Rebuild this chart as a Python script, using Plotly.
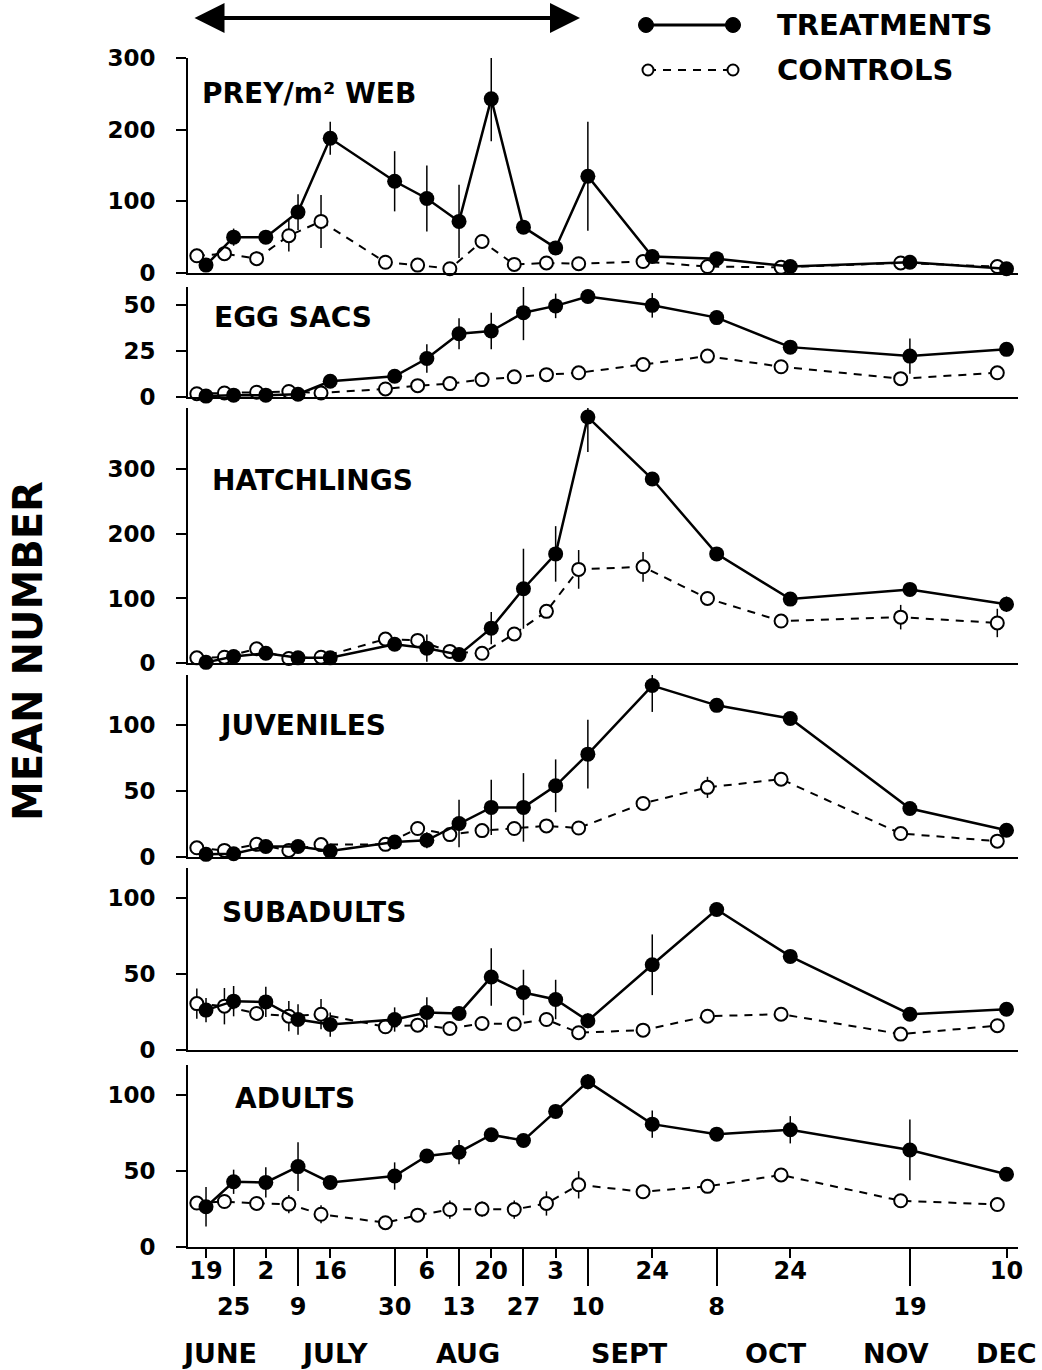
import plotly.graph_objects as go
import pandas as pd

# ---------------- data ----------------
YEAR = "1985"
sample_days = ["06-19", "06-25", "07-02", "07-09", "07-16", "07-30", "08-06", "08-13",
               "08-20", "08-27", "09-03", "09-10", "09-24", "10-08", "10-24", "11-19", "12-10"]

row1_days = ["06-19", "07-02", "07-16", "08-06", "08-20", "09-03", "09-24", "10-24", "12-10"]
row1_labels = ["19", "2", "16", "6", "20", "3", "24", "24", "10"]
row2_days = ["06-25", "07-09", "07-30", "08-13", "08-27", "09-10", "10-08", "11-19"]
row2_labels = ["25", "9", "30", "13", "27", "10", "8", "19"]
month_names = ["JUNE", "JULY", "AUG", "SEPT", "OCT", "NOV", "DEC"]
month_label_days = ["06-22", "07-17", "08-15", "09-19", "10-21", "11-16", "12-10"]

panel_labels = ["PREY/m² WEB", "EGG SACS", "HATCHLINGS", "JUVENILES", "SUBADULTS", "ADULTS"]

prey_t = [11, 50, 50, 85, 188, 128, 104, 72, 243, 64, 35, 135, 23, 20, 9, 15, 6]
prey_t_err = [0, 12, 4, 25, 23, 42, 46, 51, 59, 4, 4, 76, 0, 0, 0, 0, 0]
prey_c = [24, 27, 20, 52, 72, 15, 11, 6, 44, 12, 14, 13, 16, 9, 8, 14, 9]
prey_c_err = [10, 10, 10, 22, 37, 0, 0, 0, 0, 0, 0, 0, 0, 0, 0, 0, 0]

egg_t = [0.5, 1, 1, 1.5, 8.6, 11.3, 21, 34.5, 36, 46, 49.7, 54.8, 50, 43.3, 27.2, 22.3, 26]
egg_t_err = [0, 0, 0, 0, 0, 0, 7.8, 8.4, 10, 15, 6.7, 3, 6.7, 2, 0, 9.6, 2]
egg_c = [1.8, 2.2, 2.6, 3, 2.2, 4.4, 6.2, 7.3, 9.5, 11, 12.2, 13.2, 17.7, 22.3, 16.5, 10, 13.2]
egg_c_err = [0] * 17

hatch_t = [1, 10, 15, 8, 8, 29, 23, 13, 54, 115, 169, 381, 285, 169, 99, 114, 91]
hatch_t_err = [0, 0, 5, 0, 0, 10, 21, 0, 25, 62, 43, 54, 0, 0, 0, 0, 12]
hatch_c = [8, 9, 22, 7, 9, 37, 35, 18, 15, 45, 80, 145, 149, 100, 65, 71, 62]
hatch_c_err = [0, 0, 0, 0, 0, 10, 10, 0, 0, 0, 0, 30, 23, 0, 0, 19, 22]

juv_t = [2, 2.5, 8, 8, 4.6, 11.4, 12.7, 25.4, 37.6, 37.6, 54, 78, 130, 115, 105, 36.8, 20.3]
juv_t_err = [0, 0, 0, 0, 0, 3, 6, 18, 21, 26, 20, 26, 20, 0, 0, 0, 0]
juv_c = [7, 5, 9.6, 5, 9.4, 9.6, 21.6, 17, 20, 21.6, 23.6, 22, 40.6, 52.8, 59, 17.8, 12]
juv_c_err = [0, 0, 0, 0, 0, 0, 3, 0, 0, 0, 0, 0, 0, 8, 0, 0, 0]

sub_t = [26.3, 32.2, 31.7, 20.1, 16.8, 20.1, 24.7, 24.1, 48.1, 37.9, 33.3, 19.3, 56.2, 92.6, 61.7, 23.6, 26.9]
sub_t_err = [8, 10, 10, 10, 8, 8, 10, 0, 19, 15, 13, 5, 20, 0, 0, 0, 0]
sub_c = [30.6, 28.9, 24.1, 22.3, 23.6, 15.3, 16.4, 14.2, 17.5, 17.1, 20.1, 11.4, 13.1, 22.3, 23.6, 10.5, 16]
sub_c_err = [10, 12, 0, 10, 10, 0, 0, 0, 0, 0, 0, 0, 0, 0, 0, 0, 0]

ad_t = [26.5, 43, 42.6, 53, 42.6, 46.8, 60, 62.5, 74, 70.2, 89.4, 109, 81, 74.4, 77.3, 64, 48]
ad_t_err = [13, 8, 10, 16, 0, 9, 0, 8, 0, 0, 0, 5, 9, 0, 9, 20, 0]
ad_c = [29, 30, 28.7, 28.3, 21.6, 16, 21, 24.7, 25, 24.7, 28.7, 41, 36.4, 40, 47.5, 30.5, 28]
ad_c_err = [0, 0, 0, 6, 6, 0, 0, 6, 5, 6, 8, 9, 0, 0, 0, 0, 0]

y_ticks = [[0, 100, 200, 300], [0, 25, 50], [0, 100, 200, 300], [0, 50, 100], [0, 50, 100], [0, 50, 100]]
y_max = [300, 60, 395, 138, 120, 120]

# ---------------- helpers / layout geometry ----------------
W, H = 1042, 1370
def px(x):
    return x / W
def py(y):
    return 1 - y / H

def d(md):
    return pd.Timestamp(f"{YEAR}-{md}")

dates = [d(s) for s in sample_days]
ctrl_dates = [t - pd.Timedelta(days=2) for t in dates]
x_start = dates[0] - pd.Timedelta(hours=94)
x_end = dates[0] + pd.Timedelta(hours=int(176.5 * 24))
xr = [x_start.strftime("%Y-%m-%d %H:%M"), x_end.strftime("%Y-%m-%d %H:%M")]
x_dom = [px(188), px(1018)]

# (bottom px, top px) of each panel
panel_px = [(273, 58), (397, 287), (663, 408), (857, 675), (1050, 868), (1247, 1065)]
label_pos = [(200, 93), (212, 317), (210, 480), (217, 725), (220, 912), (233, 1098)]

series = [
    (prey_t, prey_t_err, prey_c, prey_c_err),
    (egg_t, egg_t_err, egg_c, egg_c_err),
    (hatch_t, hatch_t_err, hatch_c, hatch_c_err),
    (juv_t, juv_t_err, juv_c, juv_c_err),
    (sub_t, sub_t_err, sub_c, sub_c_err),
    (ad_t, ad_t_err, ad_c, ad_c_err),
]

FONT = "DejaVu Sans"
fig = go.Figure()
layout = dict(
    width=W, height=H, margin=dict(l=0, r=0, t=0, b=0, pad=0, autoexpand=False),
    paper_bgcolor="white", plot_bgcolor="white", showlegend=False,
    font=dict(family=FONT, color="black", size=23, weight="bold"),
)

annotations = []
for i, (t, te, c, ce) in enumerate(series):
    n = i + 1
    xname = "x" if n == 1 else f"x{n}"
    yname = "y" if n == 1 else f"y{n}"
    fig.add_trace(go.Scatter(
        x=ctrl_dates, y=c, xaxis=xname, yaxis=yname, mode="lines+markers",
        name="CONTROLS", cliponaxis=False,
        line=dict(color="black", width=2, dash="8px,7px"),
        marker=dict(symbol="circle", size=13, color="white", line=dict(color="black", width=2)),
        error_y=dict(type="data", array=ce, visible=True, width=0, thickness=1.5, color="black"),
    ))
    fig.add_trace(go.Scatter(
        x=dates, y=t, xaxis=xname, yaxis=yname, mode="lines+markers",
        name="TREATMENTS", cliponaxis=False,
        line=dict(color="black", width=2.5),
        marker=dict(symbol="circle", size=15, color="black"),
        error_y=dict(type="data", array=te, visible=True, width=0, thickness=1.5, color="black"),
    ))
    bot, top = panel_px[i]
    xa = dict(domain=x_dom, range=xr, type="date", anchor=yname, showline=True, linewidth=2,
              linecolor="black", showgrid=False, zeroline=False, ticks="", showticklabels=False,
              automargin=False)
    if n > 1:
        xa["matches"] = "x"
    if n == 6:
        xa.update(ticks="outside", ticklen=9, tickwidth=2, tickcolor="black",
                  tickvals=[d(s) for s in row1_days], ticktext=row1_labels,
                  showticklabels=True, tickfont=dict(size=24), ticklabelstandoff=-8)
    ya = dict(domain=[py(bot), py(top)], range=[0, y_max[i]], anchor=xname, showline=True,
              linewidth=2, linecolor="black", showgrid=False, zeroline=False,
              ticks="outside", ticklen=10, tickwidth=2, tickcolor="black",
              tickvals=y_ticks[i], ticklabelstandoff=16, tickfont=dict(size=23),
              automargin=False)
    layout["xaxis" if n == 1 else f"xaxis{n}"] = xa
    layout["yaxis" if n == 1 else f"yaxis{n}"] = ya
    lx, ly = label_pos[i]
    annotations.append(dict(text=panel_labels[i], xref="paper", yref="paper", x=px(lx), y=py(ly),
                            xanchor="left", yanchor="middle", showarrow=False,
                            font=dict(size=28, family=FONT, weight="bold")))

# second row of date ticks (long ticks) on an overlaying axis
layout["xaxis7"] = dict(overlaying="x6", anchor="y6", side="bottom", range=xr, type="date",
                        domain=x_dom, showline=False, showgrid=False, zeroline=False,
                        ticks="outside", ticklen=38, tickwidth=2, tickcolor="black",
                        tickvals=[d(s) for s in row2_days], ticktext=row2_labels,
                        ticklabelstandoff=0, tickfont=dict(size=24), automargin=False)
fig.add_trace(go.Scatter(x=[], y=[], xaxis="x7", yaxis="y6", showlegend=False, hoverinfo="skip"))

# month names
for name, md in zip(month_names, month_label_days):
    annotations.append(dict(text=name, xref="x6", yref="paper", x=d(md), y=py(1353),
                            xanchor="center", yanchor="middle", showarrow=False,
                            font=dict(size=27, family=FONT, weight="bold")))

# y title
annotations.append(dict(text="MEAN NUMBER", xref="paper", yref="paper", x=px(28), y=py(651),
                        xanchor="center", yanchor="middle", showarrow=False, textangle=-90,
                        font=dict(size=40, family=FONT, weight="bold")))

# treatment period arrow
annotations.append(dict(text="", xref="paper", yref="paper", x=px(580), y=py(18),
                        axref="pixel", ayref="pixel", ax=-(580 - 193), ay=0,
                        showarrow=True, arrowside="end+start", arrowhead=2, arrowsize=1.5,
                        arrowwidth=4, arrowcolor="black", standoff=0, startstandoff=0))

# manual legend
shapes = []
legend_rows = [("TREATMENTS", 25, True), ("CONTROLS", 70, False)]
for text, yy, filled in legend_rows:
    if filled:
        shapes.append(dict(type="line", xref="paper", yref="paper", x0=px(646), x1=px(733),
                           y0=py(yy), y1=py(yy), line=dict(color="black", width=3)))
        r = 7.5
        for cx in (646, 733):
            shapes.append(dict(type="circle", xref="paper", yref="paper",
                               x0=px(cx - r), x1=px(cx + r), y0=py(yy + r), y1=py(yy - r),
                               fillcolor="black", line=dict(color="black", width=1)))
    else:
        shapes.append(dict(type="line", xref="paper", yref="paper", x0=px(648), x1=px(733),
                           y0=py(yy), y1=py(yy), line=dict(color="black", width=2, dash="8px,7px")))
        r = 5.5
        for cx in (648, 733):
            shapes.append(dict(type="circle", xref="paper", yref="paper",
                               x0=px(cx - r), x1=px(cx + r), y0=py(yy + r), y1=py(yy - r),
                               fillcolor="white", line=dict(color="black", width=2)))
    annotations.append(dict(text=text, xref="paper", yref="paper", x=px(775), y=py(yy),
                            xanchor="left", yanchor="middle", showarrow=False,
                            font=dict(size=29, family=FONT, weight="bold")))

layout["annotations"] = annotations
layout["shapes"] = shapes
fig.update_layout(**layout)

fig.write_html("out.html", config={"displayModeBar": False},
               post_script="document.body.style.margin='0';")
